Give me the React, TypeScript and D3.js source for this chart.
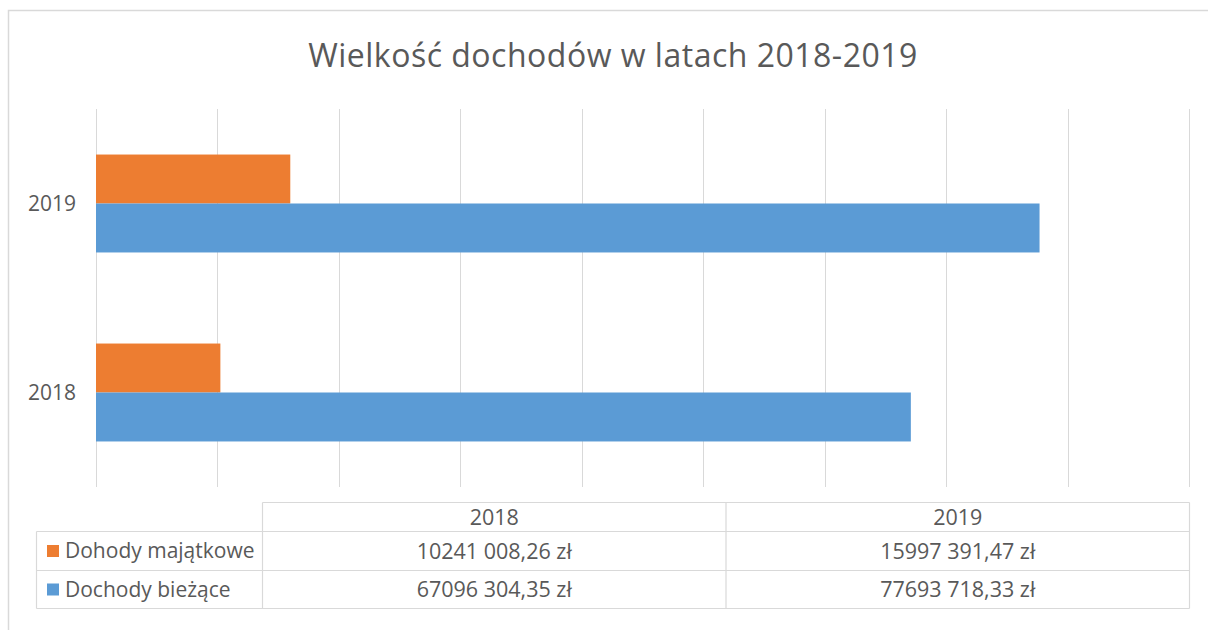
import React from "react";
import * as d3 from "d3";

// Chart categories, top to bottom
const YEARS = ["2019", "2018"];
// Column order in the data table under the chart
const TABLE_YEARS = ["2018", "2019"];
const SERIES = ["Dohody majątkowe", "Dochody bieżące"];
// values per TABLE_YEARS order (2018, 2019)
const MAJATKOWE = [10241008.26, 15997391.47];
const BIEZACE = [67096304.35, 77693718.33];
const COLORS = ["#ED7D31", "#5B9BD5"];
const X_MAX = 90000000;

const SERIES_VALUES = [MAJATKOWE, BIEZACE];

const fmt = (v: number) => {
  const [int, dec] = v.toFixed(2).split(".");
  return `${int.slice(0, -3)} ${int.slice(-3)},${dec} zł`;
};

const W = 1208;
const H = 630;
const FONT = "'Open Sans', sans-serif";
const TEXT = "#595959";
const LINE = "#D9D9D9";

export default function App() {
  const x = d3.scaleLinear().domain([0, X_MAX]).range([96, 1189]);
  const y0 = d3.scaleBand<string>().domain(YEARS).range([109, 487]);
  const y1 = d3.scaleBand<string>().domain(SERIES).range([0, y0.bandwidth()]).paddingOuter(0.93);

  const valueOf = (s: number, year: string) => SERIES_VALUES[s][TABLE_YEARS.indexOf(year)];

  // data table layout
  const tLeft = 36.5, tCol = 262.5, tRight = 1189.5;
  const rows = [502.5, 531.5, 570.5, 608.5];
  const col = d3.scaleBand<string>().domain(TABLE_YEARS).range([tCol, tRight]);

  return (
    <svg width={W} height={H} style={{ position: "absolute", left: 0, top: 0, background: "#fff" }}
      fontFamily={FONT}>
      <rect x={8.5} y={10.5} width={1300} height={700} fill="#fff" stroke={LINE} strokeWidth={1.5} />

      <text x={613} y={67} textAnchor="middle" fill={TEXT} fontSize={32} letterSpacing={0.5}>
        Wielkość dochodów w latach 2018-2019
      </text>

      {/* vertical gridlines */}
      {x.ticks(9).map(t => (
        <line key={t} x1={Math.round(x(t)) + 0.5} x2={Math.round(x(t)) + 0.5} y1={109} y2={487}
          stroke={LINE} strokeWidth={1} />
      ))}

      {/* bars */}
      {YEARS.map(year => (
        <g key={year} transform={`translate(0,${y0(year)})`}>
          {SERIES.map((s, i) => (
            <rect key={s} x={x(0)} y={y1(s)} width={x(valueOf(i, year)) - x(0)} height={y1.bandwidth()}
              fill={COLORS[i]} />
          ))}
          <text x={76} y={y0.bandwidth() / 2} dy="0.35em" textAnchor="end" fill={TEXT} fontSize={21}>
            {year}
          </text>
        </g>
      ))}

      {/* data table */}
      <g stroke={LINE} strokeWidth={1.2} fill="none">
        <line x1={tCol} x2={tRight} y1={rows[0]} y2={rows[0]} />
        {rows.slice(1).map(r => <line key={r} x1={tLeft} x2={tRight} y1={r} y2={r} />)}
        <line x1={tLeft} x2={tLeft} y1={rows[1]} y2={rows[3]} />
        <line x1={tCol} x2={tCol} y1={rows[0]} y2={rows[3]} />
        {TABLE_YEARS.map(yr => (
          <line key={yr} x1={(col(yr) ?? 0) + col.bandwidth()} x2={(col(yr) ?? 0) + col.bandwidth()}
            y1={rows[0]} y2={rows[3]} />
        ))}
      </g>
      {TABLE_YEARS.map(yr => (
        <text key={yr} x={(col(yr) ?? 0) + col.bandwidth() / 2} y={(rows[0] + rows[1]) / 2} dy="0.35em"
          textAnchor="middle" fill={TEXT} fontSize={21.5}>{yr}</text>
      ))}
      {SERIES.map((s, i) => {
        const cy = (rows[i + 1] + rows[i + 2]) / 2;
        return (
          <g key={s}>
            <rect x={47} y={cy - 6} width={12} height={12} fill={COLORS[i]} />
            <text x={65} y={cy} dy="0.35em" fill={TEXT} fontSize={21}>{s}</text>
            {TABLE_YEARS.map(yr => (
              <text key={yr} x={(col(yr) ?? 0) + col.bandwidth() / 2} y={cy} dy="0.35em"
                textAnchor="middle" fill={TEXT} fontSize={21.5}>{fmt(valueOf(i, yr))}</text>
            ))}
          </g>
        );
      })}
    </svg>
  );
}
